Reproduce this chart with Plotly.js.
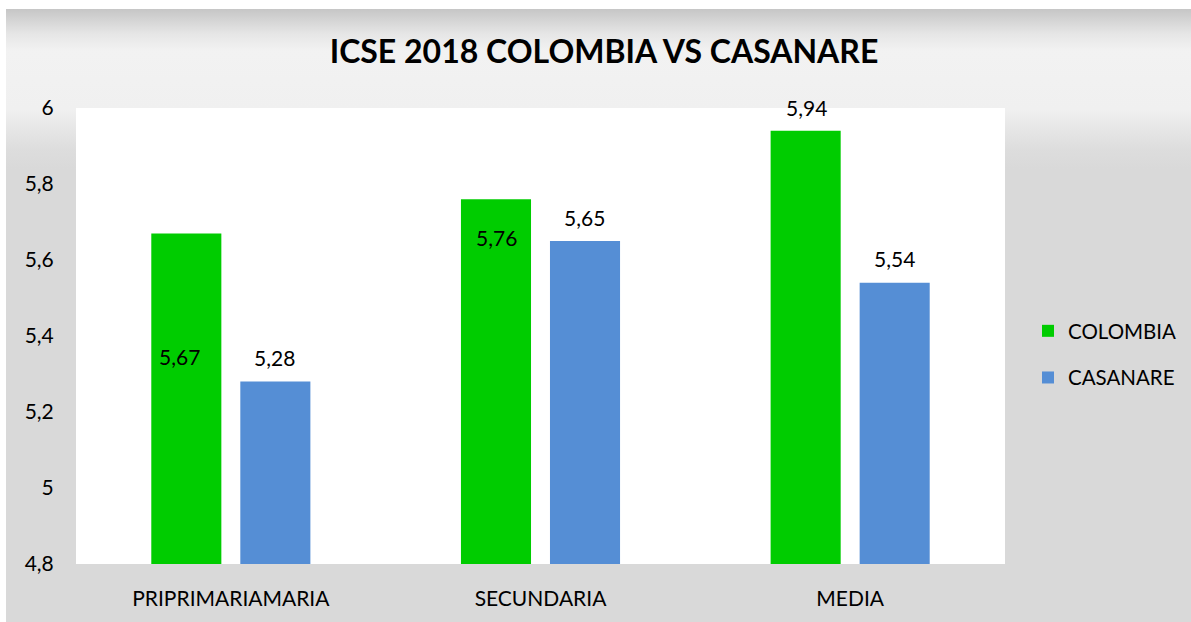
<!DOCTYPE html>
<html>
<head>
<meta charset="utf-8">
<script src="https://cdn.plot.ly/plotly-3.0.1.min.js"></script>
<style>
  html, body { margin: 0; padding: 0; background: #ffffff; }
  #frame { position: absolute; left: 0; top: 0; width: 1191px; height: 622px; overflow: hidden; background: #ffffff; }
  #bg { position: absolute; left: 6px; top: 9px; width: 1185px; height: 613px;
        background: linear-gradient(to bottom, #c6c6c6 0px, #e6e6e6 25px, #f2f2f2 42px, #f0f0f0 100px, #dddddd 140px, #d9d9d9 160px, #d9d9d9 100%); }
  #chart { position: absolute; left: 0; top: 0; width: 1191px; height: 622px; }
</style>
</head>
<body>
<div id="frame">
  <div id="bg"></div>
  <div id="chart"></div>
</div>
<script>
// ---- data ----
const categories = ["PRIPRIMARIAMARIA", "SECUNDARIA", "MEDIA"];
const colombia = [5.67, 5.76, 5.94];
const casanare = [5.28, 5.65, 5.54];
const seriesNames = ["COLOMBIA", "CASANARE"];
const yTickVals = [4.8, 5, 5.2, 5.4, 5.6, 5.8, 6];
const yTickText = ["4,8", "5", "5,2", "5,4", "5,6", "5,8", "6"];
const chartTitle = "ICSE 2018 COLOMBIA VS CASANARE";

// ---- style ----
const FONT = "Lato, 'Open Sans', sans-serif";
const green = "#00cc00";
const blue = "#558ed5";
const fmt = v => v.toFixed(2).replace(".", ",");

const traces = [
  { type: "bar", name: seriesNames[0], x: categories, y: colombia, marker: { color: green },
    legendgroup: "a", hoverinfo: "x+y" },
  { type: "bar", name: seriesNames[1], x: categories, y: casanare, marker: { color: blue },
    legendgroup: "b", hoverinfo: "x+y" }
];

// label placement offsets (pixels) relative to bar tops
const colYShift = [-123, -38, 23];
const colXShift = [-51, -44, -44];
const casYShift = [24, 24, 24];
const casXShift = [44, 44, 44];

const annotations = [];
categories.forEach((c, i) => {
  annotations.push({ x: c, y: colombia[i], xref: "x", yref: "y", text: fmt(colombia[i]),
    showarrow: false, xshift: colXShift[i], yshift: colYShift[i],
    font: { family: FONT, size: 21, color: "#000000" } });
  annotations.push({ x: c, y: casanare[i], xref: "x", yref: "y", text: fmt(casanare[i]),
    showarrow: false, xshift: casXShift[i], yshift: casYShift[i],
    font: { family: FONT, size: 21, color: "#000000" } });
});

const layout = {
  width: 1191, height: 622,
  margin: { l: 76, r: 186, t: 108, b: 58, pad: 0 },
  paper_bgcolor: "rgba(0,0,0,0)",
  plot_bgcolor: "#ffffff",
  font: { family: FONT, size: 21, color: "#000000" },
  title: { text: "<b>" + chartTitle + "</b>", font: { family: FONT, size: 32, color: "#000000" },
           xref: "container", yref: "container", x: 604 / 1191, y: 1 - 52 / 622,
           xanchor: "center", yanchor: "middle" },
  barmode: "group",
  bargap: 0.425,
  bargroupgap: 0.213,
  showlegend: true,
  legend: { xref: "container", yref: "container", x: 1028 / 1191, y: 1 - 311 / 622,
            xanchor: "left", yanchor: "top", bgcolor: "rgba(0,0,0,0)",
            font: { family: FONT, size: 20.5, color: "#000000" }, tracegroupgap: 17,
            itemclick: false },
  xaxis: { type: "category", showgrid: false, zeroline: false,
           showline: true, linecolor: "#d9d9d9", linewidth: 1,
           ticks: "outside", ticklen: 16, tickcolor: "rgba(0,0,0,0)",
           tickfont: { family: FONT, size: 21, color: "#000000" } },
  yaxis: { range: [4.8, 6], showgrid: false, zeroline: false, showline: false,
           tickmode: "array", tickvals: yTickVals, ticktext: yTickText,
           ticks: "outside", ticklen: 17, tickcolor: "rgba(0,0,0,0)",
           tickfont: { family: FONT, size: 21, color: "#000000" } },
  annotations: annotations
};

Plotly.newPlot("chart", traces, layout, { displayModeBar: false, staticPlot: true });
</script>
</body>
</html>
